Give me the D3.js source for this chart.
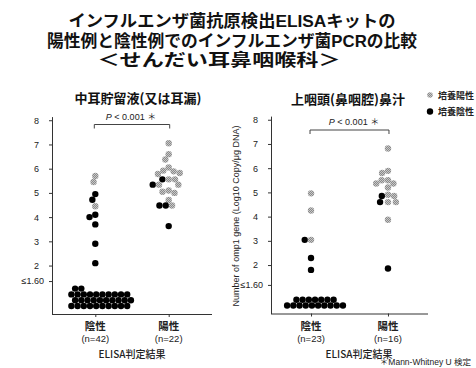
<!DOCTYPE html>
<html><head><meta charset="utf-8">
<script src="https://cdn.jsdelivr.net/npm/d3@7"></script>
<style>body{margin:0;background:#fff} svg{display:block}</style>
</head><body><svg id="c" width="476" height="368"></svg>
<script>
// ---------------- data ----------------
const titleLines = ["インフルエンザ菌抗原検出ELISAキットの", "陽性例と陰性例でのインフルエンザ菌PCRの比較", "＜せんだい耳鼻咽喉科＞"];
const panelTitles = ["中耳貯留液(又は耳漏)", "上咽頭(鼻咽腔)鼻汁"];
const categories = ["陰性", "陽性"];
const earN = [42, 22];
const nasoN = [23, 16];
const xAxisTitle = "ELISA判定結果";
const yAxisTitle = "Number of omp1 gene (Log10 Copy/μg DNA)";
const yTickValues = [2, 3, 4, 5, 6, 7, 8];
const lodLabel = "≤1.60";
const lodTickPos = [1.36, 1.18];
const legendLabels = ["培養陽性", "培養陰性"];
const pText = "< 0.001  ＊";
const footnote = "＊Mann-Whitney U 検定";

// 中耳貯留液: ELISA陰性
const earNegCulturePos = [5.7, 5.45, 4.45];
const earNegCultureNeg = [4.95, 4.72, 4.1, 4.0, 3.7, 2.9, 2.1];
const earNegBelowLod = 32;
// 中耳貯留液: ELISA陽性
const earPosCulturePos = [7.05, 6.6, 6.38, 6.05, 5.92, 5.89, 5.82, 5.78, 5.56, 5.56, 5.34, 5.34, 5.1, 5.05, 5.0, 4.71, 4.48];
const earPosCultureNeg = [5.56, 5.34, 4.48, 4.48, 3.63];
const earPosBelowLod = 0;
// 上咽頭鼻汁: ELISA陰性
const nasoNegCulturePos = [4.96, 4.25, 3.04];
const nasoNegCultureNeg = [3.04, 2.29, 1.8];
const nasoNegBelowLod = 17;
// 上咽頭鼻汁: ELISA陽性
const nasoPosCulturePos = [6.81, 5.89, 5.8, 5.5, 5.5, 5.37, 5.37, 5.2, 4.9, 4.85, 4.6, 4.6, 3.87];
const nasoPosCultureNeg = [4.85, 4.6, 1.86];
const nasoPosBelowLod = 0;

// ---------------- drawing ----------------
const svg = d3.select("#c");
svg.append("rect").attr("width", 476).attr("height", 368).attr("fill", "#fff");
const defs = svg.append("defs");
const pat = defs.append("pattern").attr("id", "hatch").attr("width", 2).attr("height", 2).attr("patternUnits", "userSpaceOnUse");
pat.append("rect").attr("width", 2).attr("height", 2).attr("fill", "#8a8a8a");
pat.append("rect").attr("x", 0).attr("y", 0).attr("width", 1).attr("height", 1).attr("fill", "#c8c8c8");
pat.append("rect").attr("x", 1).attr("y", 1).attr("width", 1).attr("height", 1).attr("fill", "#c8c8c8");

const CJK = "'Noto Sans CJK JP', 'Noto Sans', sans-serif";
const SANS = "'Liberation Sans', Arial, 'Noto Sans CJK JP', sans-serif";

// title: Latin primary font (compact line metrics), CJK glyphs fall back
const titleLayout = [{x: 232, y: 27, len: 327}, {x: 232, y: 46.5, len: 370}, {x: 219, y: 66, len: 243}];
titleLines.forEach((t, i) => {
  svg.append("text").attr("x", titleLayout[i].x).attr("y", titleLayout[i].y).attr("text-anchor", "middle")
    .attr("font-family", SANS).attr("font-weight", 700).attr("font-size", 16.5).attr("fill", "#111")
    .attr("textLength", titleLayout[i].len).attr("lengthAdjust", "spacingAndGlyphs").text(t);
});

const panels = [
  {x0: 52, x1: 212, pad: 0.59, yBottom: 314, titleX: 138, titleY: 97, xLabelX: 132, n: earN,
   groups: [[earNegCulturePos, earNegCultureNeg, earNegBelowLod], [earPosCulturePos, earPosCultureNeg, earPosBelowLod]],
   bracketY: 124.5, pX: 131, pY: 117, lod: lodTickPos[0]},
  {x0: 271, x1: 428, pad: 0.52, yBottom: 313.5, titleX: 348, titleY: 98, xLabelX: 359, n: nasoN,
   groups: [[nasoNegCulturePos, nasoNegCultureNeg, nasoNegBelowLod], [nasoPosCulturePos, nasoPosCultureNeg, nasoPosBelowLod]],
   bracketY: 130, pX: 354, pY: 122, lod: lodTickPos[1]}
];

const R = 3.2, D = 6.3;

function swarm(pts, y) {
  const sorted = pts.slice().sort((a, b) => b.v - a.v || a.c - b.c);
  const placed = [];
  for (const p of sorted) {
    const py = y(p.v);
    const cands = [0];
    for (const q of placed) {
      const dy = Math.abs(q.py - py);
      if (dy < D) { const dx = Math.sqrt(D * D - dy * dy); cands.push(q.dx - dx, q.dx + dx); }
    }
    cands.sort((a, b) => Math.abs(a) - Math.abs(b) || a - b);
    const ok = cands.find(c => placed.every(q => (q.dx - c) ** 2 + (q.py - py) ** 2 >= D * D - 1e-6));
    placed.push({...p, py, dx: ok});
  }
  // within a row of equal values, culture-negative (black) dots take the leftmost slots
  d3.group(placed, d => d.v).forEach(row => {
    const xs = row.map(d => d.dx).sort((a, b) => a - b);
    row.slice().sort((a, b) => a.c - b.c).forEach((d, i) => { d.dx = xs[i]; });
  });
  return placed;
}

panels.forEach((P, pi) => {
  const g = svg.append("g");
  const y = d3.scaleLinear().domain([0, 8.15]).range([P.yBottom, P.yBottom - 8.15 * 24.22]);
  const x = d3.scalePoint().domain(categories).range([P.x0, P.x1]).padding(P.pad);

  // y axis
  const ya = g.append("g").attr("transform", `translate(${P.x0},0)`)
    .call(d3.axisLeft(y).tickValues([...yTickValues, P.lod]).tickSize(3).tickSizeOuter(0).tickPadding(10)
      .tickFormat(d => d === P.lod ? lodLabel : d));
  ya.selectAll("text").attr("font-family", SANS).attr("font-size", 9).attr("fill", "#222");
  ya.selectAll("text").filter(d => d === P.lod).attr("x", -8);
  ya.selectAll("path,line").attr("stroke", "#333");

  // x axis
  const xa = g.append("g").attr("transform", `translate(0,${P.yBottom})`)
    .call(d3.axisBottom(x).tickSize(3).tickSizeOuter(0).tickFormat(""));
  xa.select(".domain").attr("d", `M${P.x0},0.5H${P.x1}`);
  xa.selectAll("path,line").attr("stroke", "#333");

  categories.forEach((c, ci) => {
    g.append("text").attr("x", x(c)).attr("y", 325).attr("text-anchor", "middle").attr("dominant-baseline", "central")
      .attr("font-family", CJK).attr("font-weight", 700).attr("font-size", 10.5).attr("fill", "#222").text(c);
    g.append("text").attr("x", x(c)).attr("y", 338).attr("text-anchor", "middle").attr("dominant-baseline", "central")
      .attr("font-family", SANS).attr("font-size", 9.5).attr("fill", "#222").text(`(n=${P.n[ci]})`);
  });
  g.append("text").attr("x", P.xLabelX).attr("y", 353).attr("text-anchor", "middle").attr("dominant-baseline", "central")
    .attr("font-family", CJK).attr("font-weight", 500).attr("font-size", 10).attr("fill", "#222").text(xAxisTitle);

  // panel title
  g.append("text").attr("x", P.titleX).attr("y", P.titleY).attr("text-anchor", "middle").attr("dominant-baseline", "central")
    .attr("font-family", CJK).attr("font-weight", 700).attr("font-size", 13).attr("fill", "#111").text(panelTitles[pi]);

  // bracket
  const bx0 = x(categories[0]) - 1, bx1 = x(categories[1]) + 1;
  g.append("path").attr("d", `M${bx0},${P.bracketY + 4}V${P.bracketY}H${bx1}V${P.bracketY + 4}`)
    .attr("fill", "none").attr("stroke", "#444").attr("stroke-width", 1);
  const pt = g.append("text").attr("x", P.pX).attr("y", P.pY).attr("text-anchor", "middle").attr("dominant-baseline", "central")
    .attr("font-family", SANS).attr("font-size", 9).attr("fill", "#222");
  pt.append("tspan").attr("font-style", "italic").text("P");
  pt.append("tspan").text(" " + pText);

  // points
  P.groups.forEach((grp, ci) => {
    const cx = x(categories[ci]);
    const pts = [...grp[0].map(v => ({v, c: 1})), ...grp[1].map(v => ({v, c: 0}))];
    const placed = swarm(pts, y);
    g.selectAll(null).data(placed).enter().append("circle")
      .attr("cx", d => cx + d.dx).attr("cy", d => d.py).attr("r", R)
      .attr("fill", d => d.c === 1 ? "url(#hatch)" : "#000");
    // below detection grid
    const nb = grp[2];
    const perRow = 10, s = 6.2, rs = 5.8;
    const dots = d3.range(nb).map(k => {
      const r = Math.floor(k / perRow), i = k % perRow;
      const inRow = Math.min(perRow, nb - r * perRow);
      let start;
      if (inRow < perRow && inRow > perRow / 2) start = cx + 4 - (inRow - 1) / 2 * s;
      else start = cx + 4 - (perRow - 1) / 2 * s + (r % 2 ? s * 0.6 : 0);
      return {x: start + i * s, y: P.yBottom - 8 - r * rs};
    });
    g.selectAll(null).data(dots).enter().append("circle")
      .attr("cx", d => d.x).attr("cy", d => d.y).attr("r", R).attr("fill", "#000");
  });
});

// y axis title (between panels)
svg.append("text").attr("transform", "translate(236,216) rotate(-90)")
  .attr("text-anchor", "middle").attr("dominant-baseline", "central")
  .attr("font-family", SANS).attr("font-size", 9).attr("fill", "#222").text(yAxisTitle);

// legend
legendLabels.forEach((l, i) => {
  const ly = 95 + i * 16.5;
  svg.append("circle").attr("cx", 430).attr("cy", ly).attr("r", i === 0 ? 2.8 : 3.2).attr("fill", i === 0 ? "url(#hatch)" : "#000");
  svg.append("text").attr("x", 438).attr("y", ly).attr("dominant-baseline", "central")
    .attr("font-family", CJK).attr("font-weight", 700).attr("font-size", 9).attr("fill", "#222").text(l);
});

// footnote
svg.append("text").attr("x", 471).attr("y", 362).attr("text-anchor", "end").attr("dominant-baseline", "central")
  .attr("font-family", SANS).attr("font-size", 8.5).attr("fill", "#222").text(footnote);
</script></body></html>
